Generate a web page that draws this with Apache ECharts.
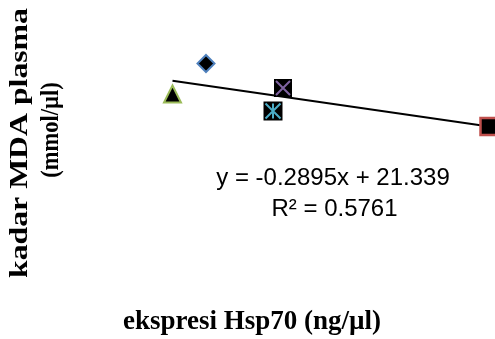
<!DOCTYPE html>
<html>
<head>
<meta charset="utf-8">
<script src="https://cdn.jsdelivr.net/npm/echarts@6/dist/echarts.min.js"></script>
<style>
html,body{margin:0;padding:0;background:#fff;}
#chart{width:495px;height:339px;}
</style>
</head>
<body>
<div id="chart"></div>
<script>
// Data
const pointNames = ['A', 'B', 'C', 'D', 'E'];
const xValues = [20.05, 23.4, 31.1, 30.1, 51.7];
const yValues = [12.89, 18.99, 14.09, 9.49, 6.39];
const trendSlope = -0.2895;
const trendIntercept = 21.339;
const equationText = 'y = -0.2895x + 21.339';
const r2Text = 'R² = 0.5761';
const xTitle = 'ekspresi Hsp70 (ng/µl)';
const yTitleLines = ['kadar MDA plasma', '(mmol/µl)'];

const chart = echarts.init(document.getElementById('chart'));

const markerStyles = [
  {symbol: 'triangle', size: 17, border: '#9BBB59', bw: 2},
  {symbol: 'diamond', size: 17, border: '#4F81BD', bw: 2},
  {symbol: 'rect', size: 18, border: '#000', bw: 0, overlay: 'path://M0,0L10,10M10,0L0,10', overlayColor: '#8064A2'},
  {symbol: 'rect', size: 19, border: '#000', bw: 0, overlay: 'path://M0,0L10,10M10,0L0,10M5,0L5,10', overlayColor: '#4BACC6'},
  {symbol: 'rect', size: 17, border: '#C0504D', bw: 2.5}
];

const xMin = Math.min(...xValues), xMax = Math.max(...xValues);
const series = [{
  type: 'line',
  data: [[xMin, trendSlope * xMin + trendIntercept], [xMax, trendSlope * xMax + trendIntercept]],
  symbol: 'none',
  lineStyle: {color: '#000', width: 2},
  silent: true,
  z: 1
}];

pointNames.forEach((n, i) => {
  const st = markerStyles[i];
  series.push({
    type: 'scatter',
    name: n,
    data: [[xValues[i], yValues[i]]],
    symbol: st.symbol,
    symbolSize: st.size,
    itemStyle: {color: '#000', borderColor: st.border, borderWidth: st.bw, opacity: 1},
    z: 2
  });
  if (st.overlay) {
    series.push({
      type: 'scatter',
      name: n + ' mark',
      data: [[xValues[i], yValues[i]]],
      symbol: st.overlay,
      symbolSize: st.size - 4,
      itemStyle: {color: 'transparent', borderColor: st.overlayColor, borderWidth: 2, opacity: 1},
      z: 3
    });
  }
});

const hidden = {axisLine: {show: false}, axisTick: {show: false}, axisLabel: {show: false}, splitLine: {show: false}};

chart.setOption({
  animation: false,
  backgroundColor: '#fff',
  grid: {left: 132, width: 360, top: 33.45, height: 125},
  xAxis: Object.assign({type: 'value', min: 16, max: 52}, hidden),
  yAxis: Object.assign({type: 'value', min: 0, max: 25}, hidden),
  series: series,
  graphic: [
    {type: 'text', x: 21, y: 143, rotation: Math.PI / 2, scaleX: 1.27,
     style: {text: yTitleLines[0], font: 'bold 25px "Liberation Serif"', fill: '#000', align: 'center', verticalAlign: 'middle'}},
    {type: 'text', x: 51.5, y: 130, rotation: Math.PI / 2, scaleX: 0.9,
     style: {text: yTitleLines[1], font: 'bold 25px "Liberation Serif"', fill: '#000', align: 'center', verticalAlign: 'middle'}},
    {type: 'text', x: 252, y: 322,
     style: {text: xTitle, font: 'bold 27px "Liberation Serif"', fill: '#000', align: 'center', verticalAlign: 'middle'}},
    {type: 'text', x: 333, y: 178,
     style: {text: equationText, font: '24px "Liberation Sans"', fill: '#000', align: 'center', verticalAlign: 'middle'}},
    {type: 'text', x: 334.5, y: 209,
     style: {text: r2Text, font: '24px "Liberation Sans"', fill: '#000', align: 'center', verticalAlign: 'middle'}}
  ]
});
</script>
</body>
</html>
